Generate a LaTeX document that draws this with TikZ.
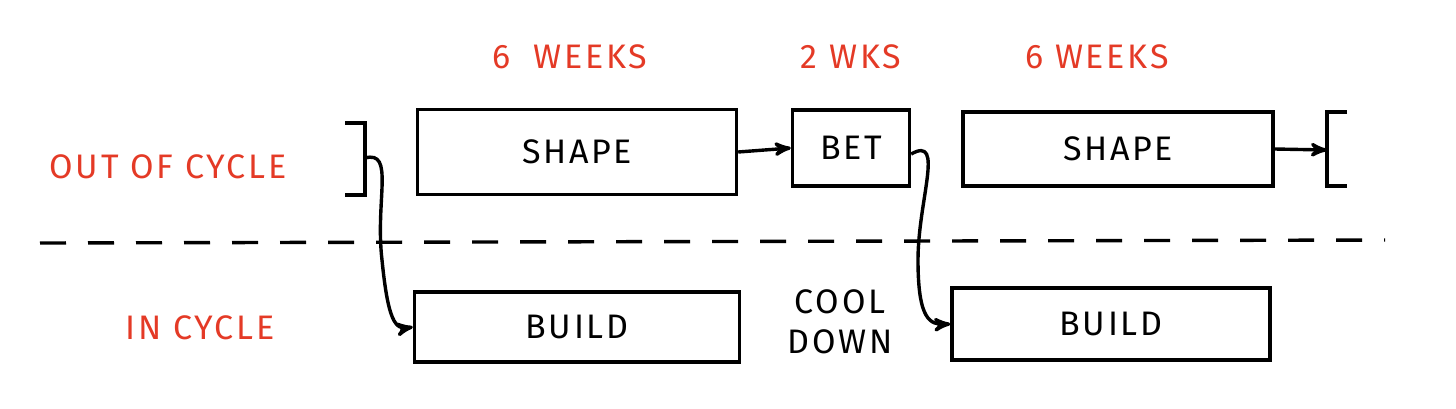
\documentclass[tikz,border=0pt]{standalone}
\usepackage{fontspec}
\setmainfont{Fira Sans}[LetterSpace=8]
\usetikzlibrary{arrows,calc,positioning}
\definecolor{sketchred}{RGB}{228,58,38}
\begin{document}
\begin{tikzpicture}[x=0.5pt,y=-0.5pt,
    box/.style={draw,line width=1.7pt,inner sep=0pt},
    lbl/.style={text=sketchred,font=\fontsize{17}{20}\selectfont},
    txt/.style={font=\fontsize{17}{20}\selectfont},
    conn/.style={line width=1.7pt,->,>=stealth'}]
  \useasboundingbox (0,0) rectangle (1456,408);

  % time spans
  \node[lbl] (w1) at (570,57) {6\,\, WEEKS};
  \node[lbl] (w2) at (851,57) {2 WKS};
  \node[lbl] (w3) at (1097,57) {6 WEEKS};

  % tracks
  \node[lbl] (out) at (168,167) {OUT OF CYCLE};
  \node[lbl] (in)  at (200,328) {IN CYCLE};

  % out of cycle boxes
  \node[box,minimum width=159.5pt,minimum height=42.5pt,txt] (shape1) at (577,152) {SHAPE};
  \node[box,minimum width=58.5pt,minimum height=38pt,txt] (bet) at (851,148) {BET};
  \node[box,minimum width=155pt,minimum height=37pt,txt] (shape2) at (1118,149) {SHAPE};

  % in cycle boxes
  \node[box,minimum width=162.5pt,minimum height=35pt,txt] (build1) at (577,327) {BUILD};
  \node[box,minimum width=159pt,minimum height=36pt,txt] (build2) at (1111,324) {BUILD};
  \node[txt,align=center] (cool) at (840,322) {COOL\\DOWN};

  % brackets
  \draw[line width=1.7pt] (345,123) -- (365,123) -- (365,195) -- (345,195);
  \coordinate (brl) at (365,158);
  \draw[line width=1.7pt] (1347,112) -- (1327,112) -- (1327,186) -- (1347,186);
  \coordinate (brr) at (1327,150);

  % divider
  \draw[line width=1.7pt,dash pattern=on 13pt off 11pt] (40,243) -- (1385,240);

  % connectors
  \draw[conn] (shape1.east) -- (bet.west);
  \draw[conn] (shape2.east) -- (brr);
  \draw[conn] (brl) .. controls (395,150) and (375,200) .. (382,260)
    .. controls (388,320) and (395,330) .. (build1.west);
  \draw[conn] ([yshift=-3pt]bet.east) .. controls (945,135) and (918,200) .. (918,260)
    .. controls (918,320) and (930,325) .. (build2.west);
\end{tikzpicture}
\end{document}
